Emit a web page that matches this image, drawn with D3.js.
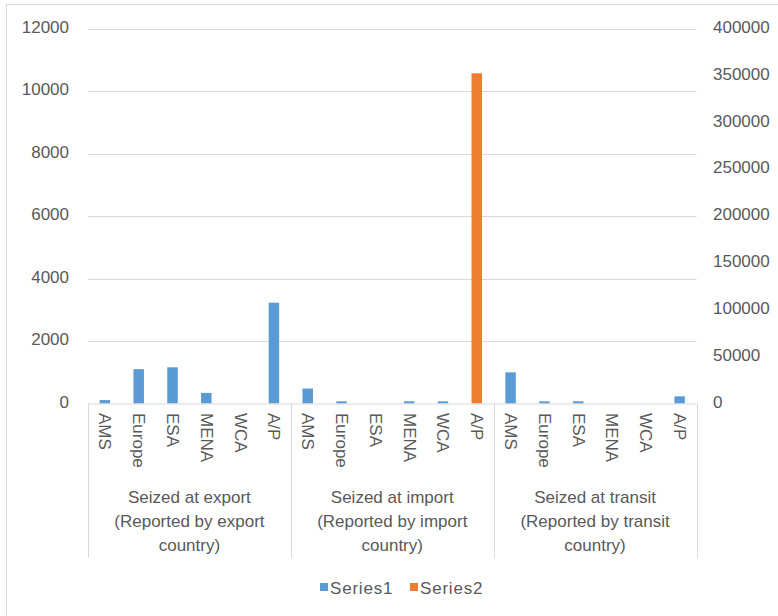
<!DOCTYPE html>
<html>
<head>
<meta charset="utf-8">
<script src="https://cdn.jsdelivr.net/npm/d3@7"></script>
<style>
  html, body { margin: 0; padding: 0; background: #fff; }
  svg { display: block; }
  text { font-family: "Liberation Sans", Arial, sans-serif; fill: #595959; }
</style>
</head>
<body>
<svg id="chart" width="778" height="616"></svg>
<script>
// ---- data ----
const groups = [
  ["Seized at export", "(Reported by export", "country)"],
  ["Seized at import", "(Reported by import", "country)"],
  ["Seized at transit", "(Reported by transit", "country)"]
];
const regions = ["AMS", "Europe", "ESA", "MENA", "WCA", "A/P"];
const series1 = [110, 1100, 1160, 340, 0, 3230,
                 480, 70, 0, 70, 70, 0,
                 1000, 70, 70, 0, 0, 230];
const series2 = [0, 0, 0, 0, 0, 0,
                 0, 0, 0, 0, 0, 352700,
                 0, 0, 0, 0, 0, 0];
const leftTicks = [0, 2000, 4000, 6000, 8000, 10000, 12000];
const rightTicks = [0, 50000, 100000, 150000, 200000, 250000, 300000, 350000, 400000];
const seriesNames = ["Series1", "Series2"];
const colors = ["#5B9BD5", "#ED7D31"];

(function () {
// ---- layout ----
const svg = d3.select("#chart");
const pLeft = 88, pRight = 696.5, pTop = 29, base = 403.5;

const cats = [];
groups.forEach((g, gi) => regions.forEach((r, ri) => cats.push({ key: gi + "-" + ri, gi, r })));

const x = d3.scaleBand().domain(cats.map(c => c.key)).range([pLeft, pRight])
  .paddingInner(0.69).paddingOuter(0.345);
const yL = d3.scaleLinear().domain([0, 12000]).range([base, pTop]);
const yR = d3.scaleLinear().domain([0, 400000]).range([base, pTop]);

// outer border
svg.append("rect").attr("x", 6.5).attr("y", 4.5).attr("width", 800).attr("height", 700)
  .attr("fill", "none").attr("stroke", "#D9D9D9");

// gridlines
svg.append("g").selectAll("line").data(leftTicks.filter(d => d > 0)).join("line")
  .attr("x1", pLeft).attr("x2", pRight)
  .attr("y1", d => Math.round(yL(d)) + 0.5).attr("y2", d => Math.round(yL(d)) + 0.5)
  .attr("stroke", "#D9D9D9").attr("stroke-width", 1);

// left axis labels
svg.append("g").selectAll("text").data(leftTicks).join("text")
  .attr("x", 69).attr("y", d => yL(d) - 1.5)
  .attr("text-anchor", "end").attr("dominant-baseline", "central")
  .attr("font-size", 17).text(d => d);

// right axis labels
svg.append("g").selectAll("text").data(rightTicks).join("text")
  .attr("x", 713).attr("y", d => yR(d) - 1.5)
  .attr("text-anchor", "start").attr("dominant-baseline", "central")
  .attr("font-size", 17).text(d => d);

// bars series1 (left axis)
svg.append("g").selectAll("rect").data(cats.map((c, i) => ({ c, v: series1[i] })).filter(d => d.v > 0)).join("rect")
  .attr("x", d => x(d.c.key)).attr("width", x.bandwidth())
  .attr("y", d => yL(d.v)).attr("height", d => base - yL(d.v))
  .attr("fill", colors[0]);

// bars series2 (right axis)
svg.append("g").selectAll("rect").data(cats.map((c, i) => ({ c, v: series2[i] })).filter(d => d.v > 0)).join("rect")
  .attr("x", d => x(d.c.key)).attr("width", x.bandwidth())
  .attr("y", d => yR(d.v)).attr("height", d => base - yR(d.v))
  .attr("fill", colors[1]);

// category axis line
svg.append("line").attr("x1", pLeft).attr("x2", pRight).attr("y1", base + 0.5).attr("y2", base + 0.5)
  .attr("stroke", "#D9D9D9").attr("stroke-width", 1);

// group separators
const groupW = x.step() * regions.length;
svg.append("g").selectAll("line").data(d3.range(groups.length + 1)).join("line")
  .attr("x1", i => Math.round(pLeft + i * groupW) + 0.5).attr("x2", i => Math.round(pLeft + i * groupW) + 0.5)
  .attr("y1", base).attr("y2", 558)
  .attr("stroke", "#D9D9D9").attr("stroke-width", 1);

// rotated category labels
svg.append("g").selectAll("text").data(cats).join("text")
  .attr("transform", d => `translate(${x(d.key) + x.bandwidth() / 2},413) rotate(90)`)
  .attr("text-anchor", "start").attr("dominant-baseline", "central")
  .attr("font-size", 17).text(d => d.r);

// group labels
const gl = svg.append("g").selectAll("text").data(groups).join("text")
  .attr("text-anchor", "middle").attr("font-size", 17);
gl.each(function (lines, i) {
  const cx = pLeft + (i + 0.5) * groupW;
  d3.select(this).selectAll("tspan").data(lines).join("tspan")
    .attr("x", cx).attr("y", (d, j) => 503 + j * 24).text(d => d);
});

// legend
const legX = [320, 410];
const leg = svg.append("g").selectAll("g").data(seriesNames).join("g")
  .attr("transform", (d, i) => `translate(${legX[i]},0)`);
leg.append("rect").attr("x", 0).attr("y", 583).attr("width", 8).attr("height", 8)
  .attr("fill", (d, i) => colors[i]);
leg.append("text").attr("x", 10).attr("y", 594).attr("font-size", 17)
  .attr("letter-spacing", 0.8).text(d => d);
})();
</script>
</body>
</html>
